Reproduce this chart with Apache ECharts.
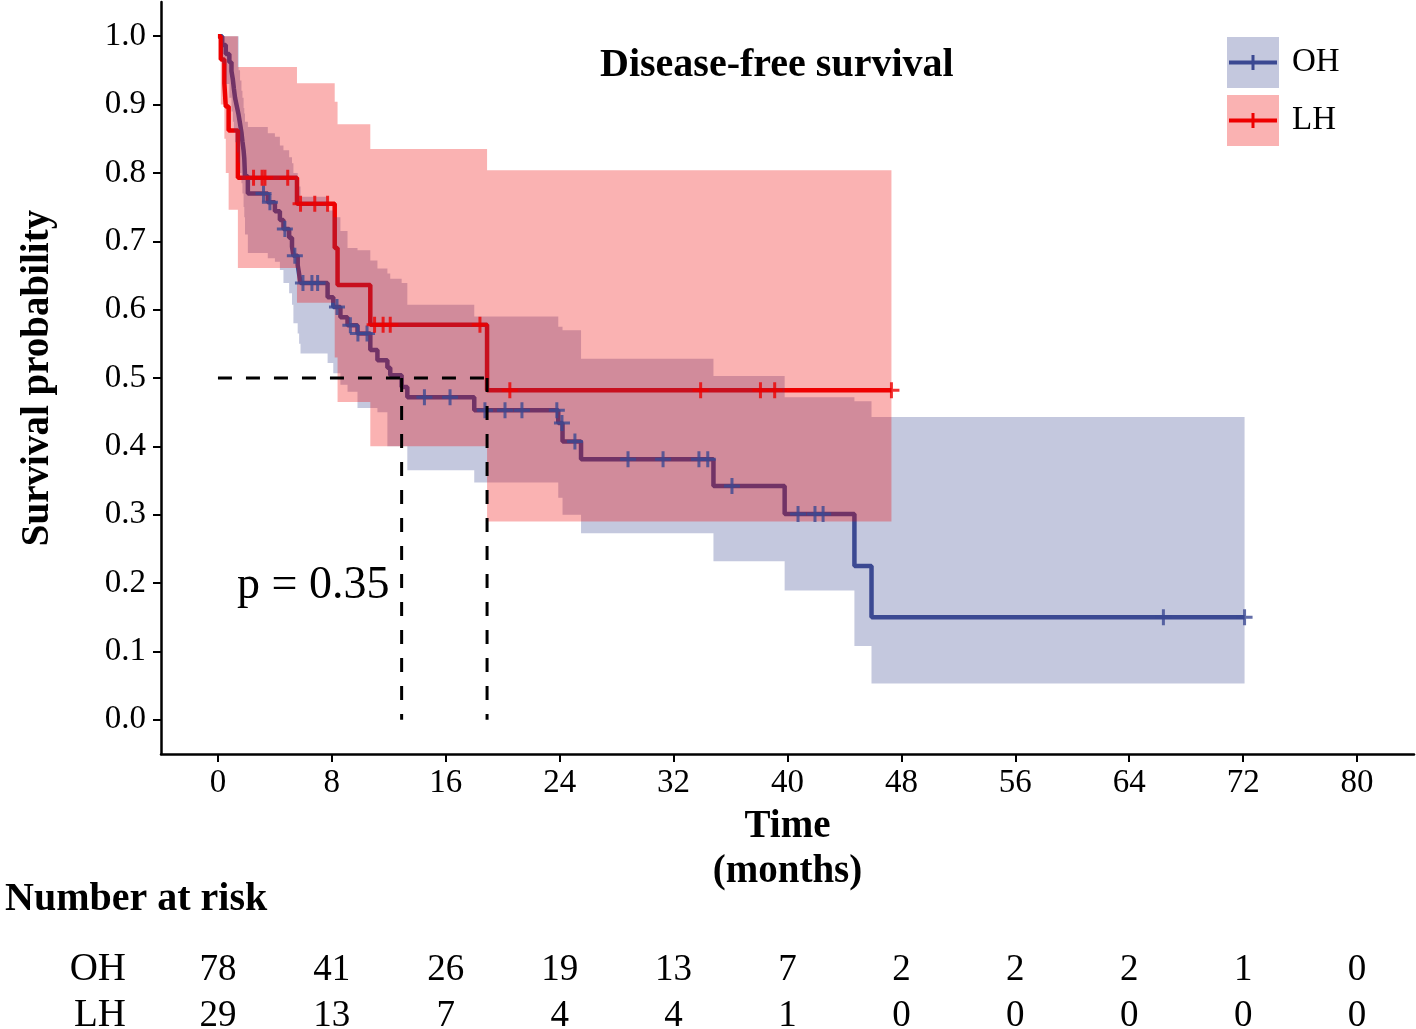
<!DOCTYPE html>
<html>
<head>
<meta charset="utf-8">
<script src="https://cdn.jsdelivr.net/npm/echarts/dist/echarts.min.js"></script>
<style>html,body{margin:0;padding:0;background:#fff;}#main{width:1416px;height:1029px;}</style>
</head>
<body>
<div id="main"></div>
<script>
// ---------- DATA ----------
const xTicks = [0, 8, 16, 24, 32, 40, 48, 56, 64, 72, 80];
const yTicks = [0, 0.1, 0.2, 0.3, 0.4, 0.5, 0.6, 0.7, 0.8, 0.9, 1.0];

// OH group: step times, survival after step, CI bounds
const ohTime  = [0, 0.3, 0.55, 0.8, 0.95, 1.05, 1.12, 1.2, 1.33, 1.45, 1.55, 1.65, 1.72, 1.8, 1.85, 1.9, 2.1, 3.5, 4.0, 4.35, 4.6, 5.0, 5.2, 5.3, 5.6, 5.7, 5.8, 7.7, 8.1, 8.6, 9.1, 9.8, 10.7, 11.2, 11.9, 12.1, 12.9, 13.3, 18.0, 23.9, 24.2, 25.5, 34.8, 39.8, 44.7, 45.9];
const ohSurv  = [1, .987, .974, .962, .949, .936, .923, .910, .897, .885, .872, .859, .846, .833, .821, .795, .770, .757, .744, .731, .718, .705, .692, .679, .665, .652, .639, .618, .604, .589, .577, .565, .541, .526, .515, .504, .487, .472, .453, .434, .407, .381, .342, .301, .225, .150];
const ohUpper = [1, 1, 1, 1, 1, 1, 1, 1, 1, .95, .935, .92, .91, .895, .887, .875, .867, .858, .853, .84, .833, .823, .814, .80, .79, .78, .765, .745, .735, .715, .69, .687, .672, .66, .653, .645, .639, .607, .59, .575, .57, .528, .503, .472, .466, .443];
const ohLower = [1, .96, .93, .91, .89, .875, .86, .845, .83, .815, .80, .785, .77, .75, .735, .71, .683, .675, .67, .658, .639, .624, .607, .58, .565, .55, .536, .522, .507, .49, .48, .456, .456, .45, .40, .40, .40, .365, .347, .325, .30, .273, .232, .189, .108, .053];
const ohEnd = 72.1;
const ohCensor = [3.2, 3.65, 4.7, 5.4, 5.97, 6.6, 7.0, 8.36, 9.3, 9.83, 10.47, 14.5, 16.3, 18.75, 20.16, 21.35, 23.8, 24.16, 25.07, 28.8, 31.26, 33.78, 34.4, 36.1, 40.74, 41.93, 42.5, 66.4, 72.1];

// LH group
const lhTime  = [0, 0.2, 0.45, 0.55, 0.75, 1.4, 5.55, 8.2, 8.4, 10.7, 18.9];
const lhSurv  = [1, .966, .931, .897, .862, .793, .755, .69, .636, .578, .482];
const lhUpper = [1, 1, 1, 1, 1, .955, .931, .904, .871, .835, .804];
const lhLower = [1, .90, .85, .80, .746, .661, .61, .53, .465, .40, .29];
const lhEnd = 47.3;
const lhCensor = [2.5, 3.1, 3.3, 4.9, 5.8, 6.8, 7.7, 11.0, 11.6, 12.1, 18.4, 20.5, 33.9, 38.1, 39.1, 47.3];

// medians
const medianLevel = 0.5;
const medianTimes = [12.9, 18.9];

// number at risk
const riskTimes = [0, 8, 16, 24, 32, 40, 48, 56, 64, 72, 80];
const ohRisk = [78, 41, 26, 19, 13, 7, 2, 2, 2, 1, 0];
const lhRisk = [29, 13, 7, 4, 4, 1, 0, 0, 0, 0, 0];

// ---------- STYLE ----------
const BLUE = '#3B4992', RED = '#EE0000';
const BLUE_BAND = 'rgba(59,73,146,0.3)', RED_BAND = 'rgba(238,0,0,0.3)';
const SERIF = '"Liberation Serif", "Times New Roman", serif';
const PLUS = 'path://M6.5,0H9.5V6.5H16V9.5H9.5V16H6.5V9.5H0V6.5H6.5Z';

function stepAt(times, vals, t) {
  let v = vals[0];
  for (let i = 0; i < times.length; i++) if (times[i] <= t) v = vals[i];
  return v;
}
function kmLine(times, surv, end) {
  const d = times.map((t, i) => [t, surv[i]]);
  d.push([end, surv[surv.length - 1]]);
  return d;
}
function band(name, times, lo, hi, end, color) {
  const data = times.map((t, i) => [t, i + 1 < times.length ? times[i + 1] : end, lo[i], hi[i]]);
  return {
    type: 'custom', name: name, z: 3, silent: true, data: data,
    encode: { x: [0, 1], y: [2, 3] },
    renderItem: function (params, api) {
      if (params.dataIndex !== 0) return null;
      const top = [], bot = [];
      for (let i = 0; i < data.length; i++) {
        const d = data[i];
        top.push(api.coord([d[0], d[3]]), api.coord([d[1], d[3]]));
        bot.push(api.coord([d[0], d[2]]), api.coord([d[1], d[2]]));
      }
      return { type: 'polygon', shape: { points: top.concat(bot.reverse()) }, style: { fill: color } };
    }
  };
}
function censor(times, ktimes, surv, color) {
  return {
    type: 'scatter', z: 4, silent: true,
    data: times.map(t => [t, stepAt(ktimes, surv, t)]),
    symbol: PLUS, symbolSize: 16, itemStyle: { color: color }
  };
}
function risk(row, vals) {
  return {
    type: 'scatter', xAxisIndex: 1, yAxisIndex: 1, silent: true,
    data: riskTimes.map((t, i) => [t, row, vals[i]]),
    symbolSize: 1, itemStyle: { color: 'rgba(255,255,255,0)' },
    label: { show: true, position: 'inside', formatter: p => String(p.value[2]),
      fontFamily: SERIF, fontSize: 37, color: '#000', opacity: 1,
      textBorderWidth: 0, textBorderColor: 'transparent' }
  };
}

const dashStyle = { type: [14, 14], color: '#000', width: 3 };
const medianSeries = [{
  type: 'line', z: 5, symbol: 'none', silent: true,
  data: [[0, medianLevel], [Math.max.apply(null, medianTimes), medianLevel]],
  lineStyle: dashStyle
}].concat(medianTimes.map(t => ({
  type: 'line', z: 5, symbol: 'none', silent: true,
  data: [[t, medianLevel], [t, 0]], lineStyle: dashStyle
})));

const option = {
  animation: false,
  backgroundColor: '#fff',
  title: [
    { text: 'Disease-free survival', left: 600, top: 46, padding: 0,
      textStyle: { fontFamily: SERIF, fontWeight: 'bold', fontSize: 40, color: '#000' } },
    { text: 'Number at risk', left: 5, top: 880, padding: 0,
      textStyle: { fontFamily: SERIF, fontWeight: 'bold', fontSize: 40, color: '#000' } },
    { text: 'p = 0.35', left: 237, top: 563, padding: 0,
      textStyle: { fontFamily: SERIF, fontWeight: 'normal', fontSize: 46, color: '#000' } }
  ],
  legend: {
    orient: 'vertical', left: 1227, top: 37, padding: 0,
    itemWidth: 52, itemHeight: 51, itemGap: 7, icon: 'rect', selectedMode: false,
    data: [
      { name: 'OH', itemStyle: { color: BLUE_BAND } },
      { name: 'LH', itemStyle: { color: RED_BAND } }
    ],
    textStyle: { fontFamily: SERIF, fontSize: 33, color: '#000', padding: [10, 0, 0, 8] }
  },
  graphic: [
    { type: 'line', shape: { x1: 1229, y1: 62.5, x2: 1277, y2: 62.5 }, style: { stroke: BLUE, lineWidth: 4 }, z: 100 },
    { type: 'line', shape: { x1: 1253, y1: 55, x2: 1253, y2: 70 }, style: { stroke: BLUE, lineWidth: 3 }, z: 100 },
    { type: 'line', shape: { x1: 1229, y1: 120.5, x2: 1277, y2: 120.5 }, style: { stroke: RED, lineWidth: 4 }, z: 100 },
    { type: 'line', shape: { x1: 1253, y1: 113, x2: 1253, y2: 128 }, style: { stroke: RED, lineWidth: 3 }, z: 100 }
  ],
  grid: [
    { left: 161, right: 2, top: 2, bottom: 275, containLabel: false, outerBoundsMode: 'none' },
    { left: 161, right: 2, top: 970, height: 46, containLabel: false, outerBoundsMode: 'none' }
  ],
  xAxis: [
    { type: 'value', gridIndex: 0, min: -4, max: 84,
      axisLine: { onZero: false, lineStyle: { color: '#000', width: 2.5 } },
      axisTick: { show: true, customValues: xTicks, length: 8, lineStyle: { color: '#000', width: 2 } },
      axisLabel: { customValues: xTicks, fontFamily: SERIF, fontSize: 33, color: '#000', margin: 13 },
      splitLine: { show: false },
      name: 'Time\n(months)', nameLocation: 'middle', nameGap: 49,
      nameTextStyle: { fontFamily: SERIF, fontWeight: 'bold', fontSize: 39, lineHeight: 45, color: '#000' } },
    { type: 'value', gridIndex: 1, min: -4, max: 84, show: false }
  ],
  yAxis: [
    { type: 'value', gridIndex: 0, min: -0.05, max: 1.05,
      axisLine: { show: true, onZero: false, lineStyle: { color: '#000', width: 2.5 } },
      axisTick: { show: true, customValues: yTicks, length: 8, lineStyle: { color: '#000', width: 2 } },
      axisLabel: { customValues: yTicks, formatter: v => v.toFixed(1), fontFamily: SERIF, fontSize: 33, color: '#000', margin: 15 },
      splitLine: { show: false },
      name: 'Survival probability', nameLocation: 'middle', nameGap: 104,
      nameTextStyle: { fontFamily: SERIF, fontWeight: 'bold', fontSize: 39, color: '#000' } },
    { type: 'category', gridIndex: 1, data: ['OH', 'LH'], inverse: true, boundaryGap: false,
      axisLine: { show: false }, axisTick: { show: false }, splitLine: { show: false },
      axisLabel: { interval: 0, fontFamily: SERIF, fontSize: 39, color: '#000', margin: 35 } }
  ],
  series: [
    { type: 'line', name: 'OH', z: 2, step: 'end', symbol: 'none', silent: true,
      data: kmLine(ohTime, ohSurv, ohEnd), lineStyle: { color: BLUE, width: 4.5 }, itemStyle: { color: BLUE } },
    { type: 'line', name: 'LH', z: 2, step: 'end', symbol: 'none', silent: true,
      data: kmLine(lhTime, lhSurv, lhEnd), lineStyle: { color: RED, width: 4.5 }, itemStyle: { color: RED } },
    band('OH band', ohTime, ohLower, ohUpper, ohEnd, BLUE_BAND),
    band('LH band', lhTime, lhLower, lhUpper, lhEnd, RED_BAND),
    censor(ohCensor, ohTime, ohSurv, BLUE),
    censor(lhCensor, lhTime, lhSurv, RED),
    risk('OH', ohRisk),
    risk('LH', lhRisk)
  ].concat(medianSeries)
};

const chart = echarts.init(document.getElementById('main'), null, { renderer: 'canvas' });
chart.setOption(option);
</script>
</body>
</html>
